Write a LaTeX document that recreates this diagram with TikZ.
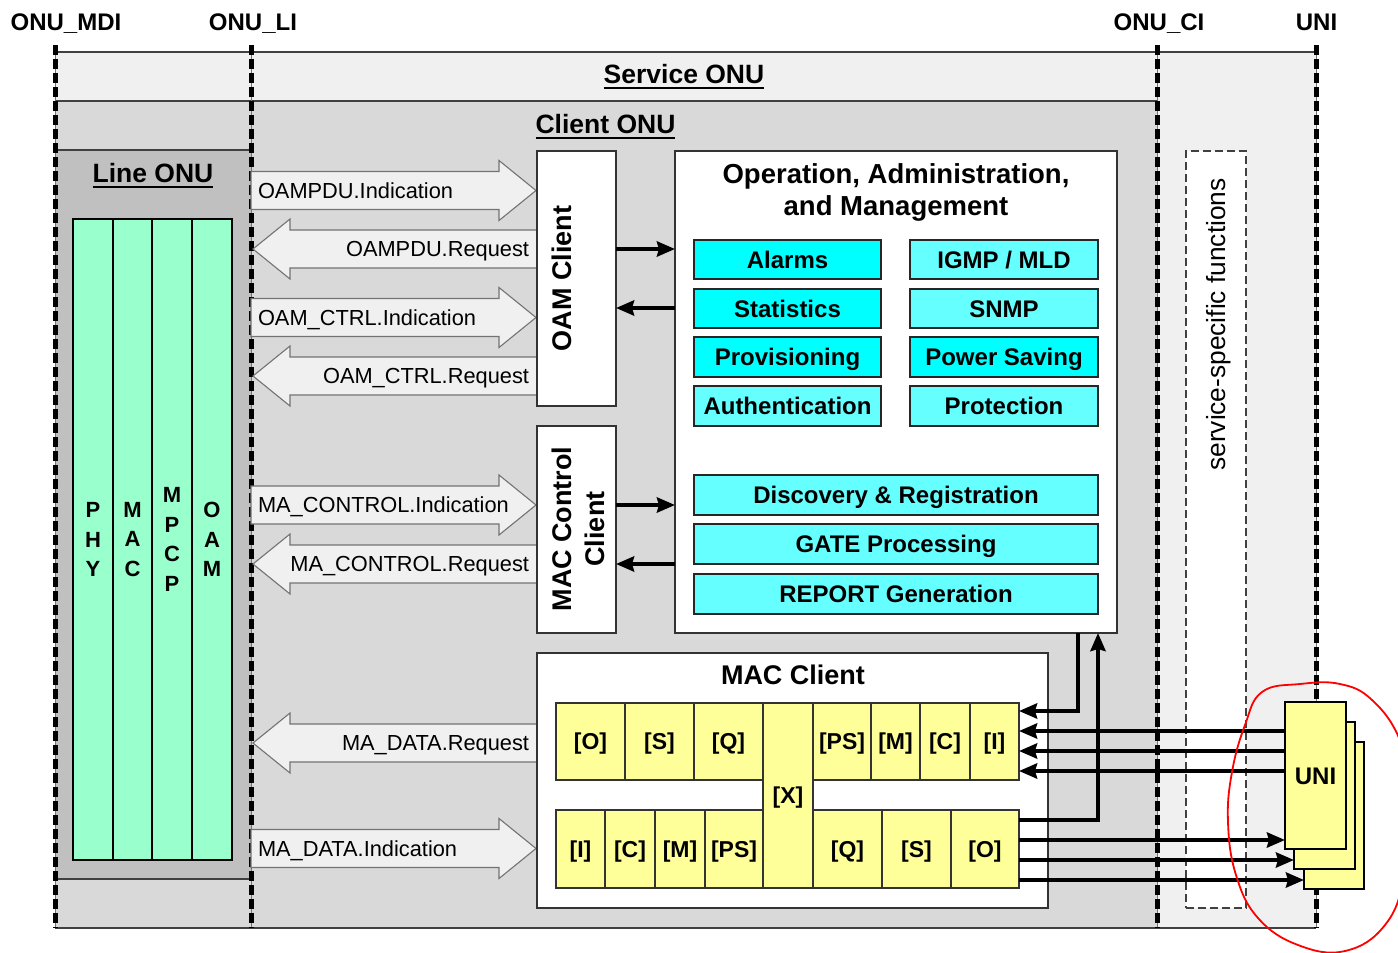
\documentclass[tikz,border=0pt]{standalone}
\usepackage{fontspec}
\setmainfont{Liberation Sans}
\usetikzlibrary{arrows.meta}
\definecolor{svc}{HTML}{F0F0F0}
\definecolor{cli}{HTML}{D9D9D9}
\definecolor{lin}{HTML}{C0C0C0}
\definecolor{grn}{HTML}{99FFCC}
\definecolor{cya}{HTML}{00FFFF}
\definecolor{cyl}{HTML}{66FFFF}
\definecolor{yel}{HTML}{FFFF99}
\definecolor{arf}{HTML}{F0F0F0}
\newcommand{\fsz}[1]{\fontsize{#1}{#1}\selectfont}
\newcommand{\bx}[7]{\node[#2, anchor=north west, minimum width=#5-#3, minimum height=#6-#4] (#1) at (#3,#4) {#7};}
\newcommand{\barR}[3]{\draw[barrow] (#1,#3-19) -- (#2-37,#3-19) -- (#2-37,#3-30) -- (#2,#3) -- (#2-37,#3+30) -- (#2-37,#3+19) -- (#1,#3+19) -- cycle;}
\newcommand{\barL}[3]{\draw[barrow] (#2,#3-19) -- (#1+37,#3-19) -- (#1+37,#3-30) -- (#1,#3) -- (#1+37,#3+30) -- (#1+37,#3+19) -- (#2,#3+19) -- cycle;}
\begin{document}
\begin{tikzpicture}[x=1pt,y=-1pt,
  every node/.style={inner sep=0pt,outer sep=0pt},
  bord/.style={draw=black!75,line width=1.5pt},
  iface/.style={line width=5pt,dash pattern=on 10pt off 4pt},
  ifaceline/.style={draw=black!55,line width=1pt},
  toplbl/.style={font=\fsz{24}\bfseries,anchor=base},
  title/.style={font=\fsz{26.5}\bfseries,anchor=base},
  ulin/.style={line width=2.5pt},
  whitebox/.style={draw=black!80,line width=1.5pt,fill=white},
  ssbox/.style={draw=black!75,line width=1.2pt,dash pattern=on 8pt off 4pt,fill=white},
  gcol/.style={draw=black,line width=2pt,fill=grn,font=\fontsize{22}{29.5}\selectfont\bfseries,align=center},
  cyA/.style={draw=black!85,line width=1.5pt,fill=cya,font=\fsz{24}\bfseries,text height=17.2pt,text depth=0pt},
  cyB/.style={cyA,fill=cyl},
  ycell/.style={draw=black!80,line width=1.2pt,fill=yel,font=\fsz{23}\bfseries,text height=16.5pt,text depth=0pt},
  unibox/.style={draw=black,line width=2.5pt,fill=yel,font=\fsz{24}\bfseries,text height=17.2pt,text depth=0pt},
  barrow/.style={draw=black!55,line width=1.1pt,fill=arf},
  alab/.style={font=\fsz{21.8}},
  rot27/.style={font=\fsz{27}\bfseries,rotate=90,anchor=base},
  blk/.style={line width=4pt,-{Stealth[length=18pt,width=15pt,inset=2pt]}},
]
\useasboundingbox (0,0) rectangle (1398,953);
\begin{scope}
\clip (0,0) rectangle (1398,953);
\fill[white] (0,0) rectangle (1398,953);
% regions
\fill[svc] (55,52) rectangle (1316,928);
\fill[cli] (55,101) rectangle (1157,928);
\fill[lin] (55,150) rectangle (251,879);
\draw[bord] (55,52) -- (1316,52);
\draw[bord] (55,101) -- (1157,101);
\draw[bord] (55,150) -- (251,150);
\draw[bord] (55,879) -- (251,879);
\draw[bord] (55,928) -- (1316,928);
% service-specific functions
\bx{ssf}{ssbox}{1186}{151}{1246}{908}{}
\node[font=\fsz{26.3},rotate=90,anchor=base] (ssft) at (1225,324.5) {service-specific functions};
% interface lines
\foreach \xx in {55,251,1157,1316} {
  \draw[ifaceline] (\xx,45) -- (\xx,928);
  \draw[iface] (\xx,45) -- (\xx,928);
}
% top labels
\node[toplbl] (mdi) at (66,30) {ONU\_MDI};
\node[toplbl] (li) at (253,30) {ONU\_LI};
\node[toplbl] (ci) at (1159,30) {ONU\_CI};
\node[toplbl] (unil) at (1316.5,30) {UNI};
% titles
\node[title] (svct) at (684,83) {Service ONU};
\draw[ulin] ([yshift=-5pt]svct.base west) -- ([yshift=-5pt]svct.base east);
\node[title] (clit) at (605.5,133) {Client ONU};
\draw[ulin] ([yshift=-5pt]clit.base west) -- ([yshift=-5pt]clit.base east);
\node[title] (lint) at (153,182) {Line ONU};
\draw[ulin] ([yshift=-5pt]lint.base west) -- ([yshift=-5pt]lint.base east);
% green stack
\bx{phy}{gcol}{73}{219}{113}{860}{P\\H\\Y}
\bx{mac}{gcol}{113}{219}{152}{860}{M\\A\\C}
\bx{mpcp}{gcol}{152}{219}{192}{860}{M\\P\\C\\P}
\bx{oaml}{gcol}{192}{219}{232}{860}{O\\A\\M}
\draw[draw=black,line width=2.5pt] (73,219) rectangle (232,860);
% block arrows
\barR{251}{536}{190.5}
\barL{253}{537}{249}
\barR{251}{536}{317.5}
\barL{253}{537}{376}
\barR{251}{536}{505}
\barL{253}{537}{564}
\barL{253}{537}{743}
\barR{251}{536}{848.5}
\node[alab,anchor=base west] (a1) at (258,198) {OAMPDU.Indication};
\node[alab,anchor=base east] (a2) at (529,256.5) {OAMPDU.Request};
\node[alab,anchor=base west] (a3) at (258,325) {OAM\_CTRL.Indication};
\node[alab,anchor=base east] (a4) at (529,383.5) {OAM\_CTRL.Request};
\node[alab,anchor=base west] (a5) at (258,512.5) {MA\_CONTROL.Indication};
\node[alab,anchor=base east] (a6) at (529,571.5) {MA\_CONTROL.Request};
\node[alab,anchor=base east] (a7) at (529,750.5) {MA\_DATA.Request};
\node[alab,anchor=base west] (a8) at (258,856) {MA\_DATA.Indication};
% OAM client and MAC control client
\bx{oamc}{whitebox}{537}{151}{616}{406}{}
\node[rot27] (oamct) at (571,278.5) {OAM Client};
\bx{macc}{whitebox}{537}{426}{616}{633}{}
\node[rot27] (macct1) at (571,529) {MAC Control};
\node[rot27] (macct2) at (604,529) {Client};
% OAM box
\bx{oam}{whitebox}{675}{151}{1117}{633}{}
\node[font=\fsz{27.5}\bfseries,anchor=base] (oamt1) at (896,183) {Operation, Administration,};
\node[font=\fsz{27.5}\bfseries,anchor=base] (oamt2) at (896,215) {and Management};
\bx{alarms}{cyA}{694}{240}{881}{279}{Alarms}
\bx{stats}{cyA}{694}{289}{881}{328}{Statistics}
\bx{prov}{cyA}{694}{337}{881}{377}{Provisioning}
\bx{auth}{cyB}{694}{386}{881}{426}{Authentication}
\bx{igmp}{cyB}{910}{240}{1098}{279}{IGMP / MLD}
\bx{snmp}{cyB}{910}{289}{1098}{328}{SNMP}
\bx{psave}{cyA}{910}{337}{1098}{377}{Power Saving}
\bx{prot}{cyB}{910}{386}{1098}{426}{Protection}
\bx{disc}{cyB}{694}{475}{1098}{515}{Discovery \& Registration}
\bx{gate}{cyB}{694}{524}{1098}{564}{GATE Processing}
\bx{rep}{cyB}{694}{574}{1098}{614}{REPORT Generation}
% MAC client
\bx{macl}{whitebox}{537}{653}{1048}{908}{}
\node[font=\fsz{27}\bfseries,anchor=base] (maclt) at (793,684) {MAC Client};
\bx{u1}{ycell}{556}{703}{625}{780}{[O]}
\bx{u2}{ycell}{625}{703}{694}{780}{[S]}
\bx{u3}{ycell}{694}{703}{763}{780}{[Q]}
\bx{u4}{ycell}{813}{703}{871}{780}{[PS]}
\bx{u5}{ycell}{871}{703}{920}{780}{[M]}
\bx{u6}{ycell}{920}{703}{970}{780}{[C]}
\bx{u7}{ycell}{970}{703}{1019}{780}{[I]}
\bx{l1}{ycell}{556}{810}{605}{888}{[I]}
\bx{l2}{ycell}{605}{810}{655}{888}{[C]}
\bx{l3}{ycell}{655}{810}{705}{888}{[M]}
\bx{l4}{ycell}{705}{810}{763}{888}{[PS]}
\bx{l5}{ycell}{813}{810}{882}{888}{[Q]}
\bx{l6}{ycell}{882}{810}{951}{888}{[S]}
\bx{l7}{ycell}{951}{810}{1019}{888}{[O]}
\bx{xc}{ycell}{763}{703}{813}{888}{[X]}
% UNI boxes
\bx{uniB}{unibox}{1304}{742}{1364}{889}{}
\bx{uniM}{unibox}{1294}{722}{1355}{869}{}
\bx{uniF}{unibox}{1285}{702}{1346}{849}{UNI}
% helper coordinates
\coordinate (h249) at (0,249);
\coordinate (h308) at (0,308);
\coordinate (h505) at (0,505);
\coordinate (h564) at (0,564);
\coordinate (h711) at (0,711);
\coordinate (h731) at (0,731);
\coordinate (h751) at (0,751);
\coordinate (h771) at (0,771);
\coordinate (h820) at (0,820);
\coordinate (h840) at (0,840);
\coordinate (h860) at (0,860);
\coordinate (h880) at (0,880);
\coordinate (c1078) at (1078,0);
\coordinate (c1098) at (1098,0);
% black arrows
\draw[blk] (oamc.east |- h249) -- (oam.west |- h249);
\draw[blk] (oam.west |- h308) -- (oamc.east |- h308);
\draw[blk] (macc.east |- h505) -- (oam.west |- h505);
\draw[blk] (oam.west |- h564) -- (macc.east |- h564);
\draw[blk] (oam.south -| c1078) |- (u7.east |- h711);
\draw[blk] (uniF.west |- h731) -- (u7.east |- h731);
\draw[blk] (uniF.west |- h751) -- (u7.east |- h751);
\draw[blk] (uniF.west |- h771) -- (u7.east |- h771);
\draw[blk] (l7.east |- h820) -| (oam.south -| c1098);
\draw[blk] (l7.east |- h840) -- (uniF.west |- h840);
\draw[blk] (l7.east |- h860) -- (uniM.west |- h860);
\draw[blk] (l7.east |- h880) -- (uniB.west |- h880);
% red hand-drawn circle
\draw[red,line width=1.8pt] plot[smooth cycle,tension=0.7] coordinates {(1262,692) (1300,684) (1340,684) (1372,700) (1400,740) (1415,800) (1405,875) (1385,925) (1345,951) (1298,945) (1258,918) (1236,875) (1228,822) (1232,772) (1245,725)};
\end{scope}
\end{tikzpicture}
\end{document}
